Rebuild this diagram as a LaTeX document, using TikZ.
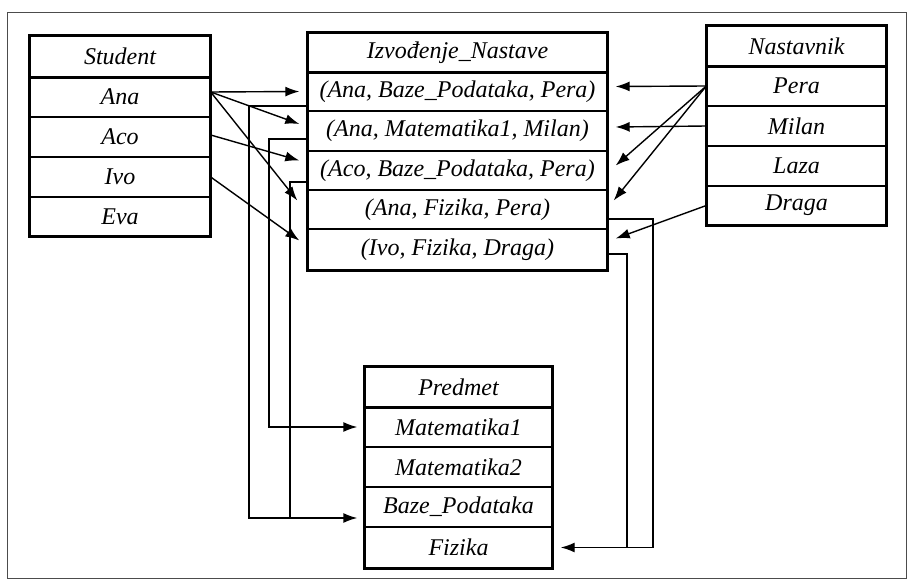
\documentclass[tikz,border=0pt]{standalone}
\usepackage{fontspec}
\setmainfont{Liberation Serif}
\usetikzlibrary{arrows.meta}
\begin{document}
\begin{tikzpicture}[x=1pt,y=-1pt,
  cell/.style={draw, line width=1.4pt, rectangle, inner sep=0pt, anchor=center,
    font=\fontsize{24}{28}\selectfont\itshape},
  stucell/.style={cell, minimum width=180pt},
  izvcell/.style={cell, minimum width=299pt},
  nascell/.style={cell, minimum width=179pt},
  precell/.style={cell, minimum width=187pt},
  outline/.style={line width=3pt},
  conn/.style={line width=1.4pt},
  arr/.style={conn, -{Latex[length=14pt,width=10pt]}}]
\useasboundingbox (0,0) rectangle (910,588);
\fill[white] (0,0) rectangle (910,588);
\draw[gray!60!black, line width=1pt] (7,13) rectangle (906,578);

% Student
\node[stucell, minimum height=41pt] (stu) at (120,56.5) {Student};
\node[stucell, minimum height=40pt] (ana) at (120,97) {Ana};
\node[stucell, minimum height=40pt] (aco) at (120,137) {Aco};
\node[stucell, minimum height=40pt] (ivo) at (120,177) {Ivo};
\node[stucell, minimum height=39pt] (eva) at (120,216.5) {Eva};
\draw[outline] (stu.north west) rectangle (eva.south east);
\draw[outline] (stu.south west) -- (stu.south east);

% Izvodjenje_Nastave
\node[izvcell, minimum height=39pt] (izv) at (457.5,52.5) {Izvođenje\_Nastave};
\node[izvcell, minimum height=39pt] (i1) at (457.5,91.5) {(Ana, Baze\_Podataka, Pera)};
\node[izvcell, minimum height=40pt] (i2) at (457.5,131) {(Ana, Matematika1, Milan)};
\node[izvcell, minimum height=39pt] (i3) at (457.5,170.5) {(Aco, Baze\_Podataka, Pera)};
\node[izvcell, minimum height=39pt] (i4) at (457.5,209.5) {(Ana, Fizika, Pera)};
\node[izvcell, minimum height=41pt] (i5) at (457.5,249.5) {(Ivo, Fizika, Draga)};
\draw[outline] (izv.north west) rectangle (i5.south east);
\draw[outline] (izv.south west) -- (izv.south east);

% Nastavnik
\node[nascell, minimum height=40pt] (nas) at (796.5,46) {Nastavnik};
\node[nascell, minimum height=40pt] (pera) at (796.5,86) {Pera};
\node[nascell, minimum height=40pt] (milan) at (796.5,126) {Milan};
\node[nascell, minimum height=40pt] (laza) at (796.5,166) {Laza};
\node[nascell, minimum height=39pt] (draga) at (796.5,205.5) {Draga};
\draw[outline] (nas.north west) rectangle (draga.south east);
\draw[outline] (nas.south west) -- (nas.south east);

% Predmet
\node[precell, minimum height=40pt] (pre) at (458.5,387) {Predmet};
\node[precell, minimum height=40pt] (m1) at (458.5,427) {Matematika1};
\node[precell, minimum height=40pt] (m2) at (458.5,467) {Matematika2};
\node[precell, minimum height=40pt] (bp) at (458.5,507) {Baze\_Podataka};
\node[precell, minimum height=41pt] (fiz) at (458.5,547.5) {Fizika};
\draw[outline] (pre.north west) rectangle (fiz.south east);
\draw[outline] (pre.south west) -- (pre.south east);

% Student -> Izvodjenje_Nastave
\draw[arr] ([yshift=5pt]ana.east) -- ([xshift=-8pt]i1.west);
\draw[arr] ([yshift=5pt]ana.east) -- ([xshift=-8pt,yshift=7pt]i2.west);
\draw[arr] ([yshift=5pt]ana.east) -- ([xshift=-10pt,yshift=9pt]i4.west);
\draw[arr] ([yshift=2pt]aco.east) -- ([xshift=-8pt,yshift=10pt]i3.west);
\draw[arr] (ivo.east) -- ([xshift=-8pt,yshift=9pt]i5.west);

% Nastavnik -> Izvodjenje_Nastave
\draw[arr] (pera.west) -- ([xshift=8pt,yshift=5pt]i1.east);
\draw[arr] (milan.west) -- ([xshift=8pt,yshift=4pt]i2.east);
\draw[arr] (pera.west) -- ([xshift=8pt,yshift=5pt]i3.east);
\draw[arr] (pera.west) -- ([xshift=6pt,yshift=9pt]i4.east);
\draw[arr] (draga.west) -- ([xshift=8pt,yshift=11pt]i5.east);

% Izvodjenje_Nastave -> Predmet (routed lines)
\coordinate (busA) at (249,0);
\coordinate (busB) at (269,0);
\coordinate (busC) at (290,0);
\coordinate (busD) at (653,0);
\coordinate (busE) at (627,0);
\coordinate (bpin) at ([xshift=-7pt,yshift=-11pt]bp.west);
\coordinate (m1in) at ([xshift=-7pt]m1.west);
\coordinate (fizin) at ([xshift=8pt]fiz.east);

\draw[arr] ([yshift=-14.5pt]i1.west) -| (busA |- bpin) -- (bpin);
\draw[arr] ([yshift=-8pt]i2.west) -| (busB |- m1in) -- (m1in);
\draw[conn] ([yshift=-11.5pt]i3.west) -| (busC |- bpin);
\draw[arr] ([yshift=-9.5pt]i4.east) -| (busD |- fizin) -- (fizin);
\draw[conn] ([yshift=-4.5pt]i5.east) -| (busE |- fizin);
\end{tikzpicture}
\end{document}
